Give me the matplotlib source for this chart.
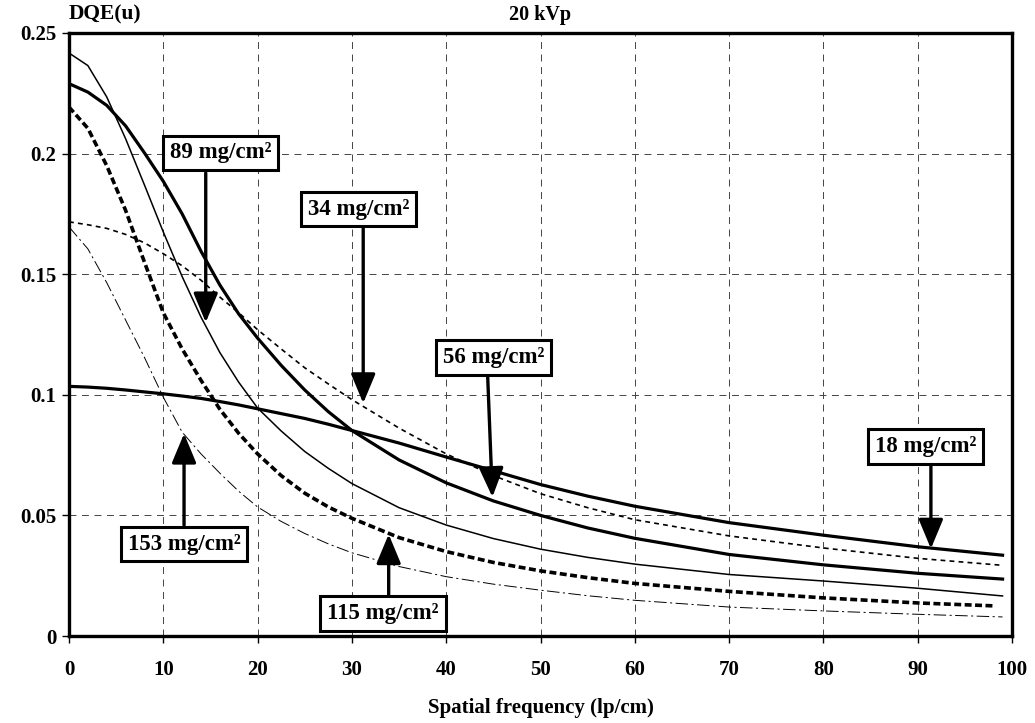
import matplotlib
matplotlib.use("Agg")
import matplotlib.pyplot as plt

# ── Data (DQE vs spatial frequency, 20 kVp) ──────────────────────────────────
freq = [0, 2, 4, 6, 8, 10, 12, 14, 16, 18, 20, 22.5, 25, 27.5, 30,
        35, 40, 45, 50, 55, 60, 70, 80, 90, 99]

dqe_18 = [0.1035, 0.1032, 0.1027, 0.1020, 0.1012, 0.1004, 0.0995, 0.0985,
          0.0972, 0.0958, 0.0942, 0.0922, 0.0902, 0.0878, 0.0852, 0.0800,
          0.0742, 0.0685, 0.0628, 0.0580, 0.0538, 0.0470, 0.0418, 0.0370,
          0.0335]
dqe_34 = [0.1717, 0.1705, 0.1690, 0.1665, 0.1630, 0.1585, 0.1535, 0.1475,
          0.1405, 0.1340, 0.1270, 0.1190, 0.1112, 0.1045, 0.0980, 0.0862,
          0.0755, 0.0665, 0.0590, 0.0532, 0.0482, 0.0415, 0.0365, 0.0322,
          0.0293]
dqe_56 = [0.2290, 0.2255, 0.2200, 0.2115, 0.2003, 0.1885, 0.1750, 0.1595,
          0.1455, 0.1335, 0.1235, 0.1122, 0.1020, 0.0930, 0.0852, 0.0730,
          0.0635, 0.0560, 0.0500, 0.0448, 0.0405, 0.0338, 0.0295, 0.0260,
          0.0236]
dqe_89 = [0.2417, 0.2365, 0.2235, 0.2062, 0.1870, 0.1675, 0.1490, 0.1322,
          0.1175, 0.1052, 0.0945, 0.0850, 0.0765, 0.0695, 0.0632, 0.0532,
          0.0460, 0.0404, 0.0360, 0.0326, 0.0298, 0.0255, 0.0228, 0.0198,
          0.0166]
dqe_115 = [0.2193, 0.2105, 0.1950, 0.1765, 0.1550, 0.1340, 0.1190, 0.1060,
           0.0940, 0.0840, 0.0755, 0.0665, 0.0592, 0.0535, 0.0488, 0.0408,
           0.0350, 0.0305, 0.0270, 0.0242, 0.0218, 0.0185, 0.0158, 0.0137,
           0.0125]
dqe_153 = [0.1696, 0.1605, 0.1465, 0.1310, 0.1155, 0.0990, 0.0845, 0.0755,
           0.0675, 0.0600, 0.0535, 0.0475, 0.0425, 0.0382, 0.0345, 0.0288,
           0.0246, 0.0215, 0.0190, 0.0167, 0.0148, 0.0120, 0.0104, 0.0090,
           0.0079]

x_ticks = [0, 10, 20, 30, 40, 50, 60, 70, 80, 90, 100]
y_ticks = [0, 0.05, 0.1, 0.15, 0.2, 0.25]
y_tick_labels = ["0", "0.05", "0.1", "0.15", "0.2", "0.25"]

# label text, box centre (x, y), arrow start (x, y), arrow tip (x, y)
labels = ["89 mg/cm²", "34 mg/cm²", "56 mg/cm²", "18 mg/cm²",
          "153 mg/cm²", "115 mg/cm²"]
box_xy = [(16.1, 0.2003), (30.7, 0.1770), (45.0, 0.1155), (90.8, 0.0787),
          (12.2, 0.0381), (33.3, 0.0094)]
arrow_from = [(14.5, 0.192), (31.2, 0.169), (44.4, 0.1075), (91.4, 0.071),
              (12.2, 0.046), (33.9, 0.017)]
arrow_to = [(14.5, 0.130), (31.2, 0.0965), (44.9, 0.0576), (91.4, 0.0362),
            (12.2, 0.0839), (33.9, 0.0422)]

SERIF = "Liberation Serif"
plt.rcParams.update({
    "font.family": SERIF,
    "font.weight": "bold",
    "lines.scale_dashes": False,
})

fig = plt.figure(figsize=(10.35, 7.23), dpi=100)
ax = fig.add_axes([69 / 1035, 1 - 636 / 723, 943 / 1035, 603 / 723])

ax.plot(freq, dqe_18, color="black", lw=2.3)
ax.plot(freq, dqe_34, color="black", lw=1.2, dashes=(3.5, 3))
ax.plot(freq, dqe_56, color="black", lw=2.3)
ax.plot(freq, dqe_89, color="black", lw=1.1)
ax.plot(freq[:-1] + [98], dqe_115, color="black", lw=2.6, dashes=(5, 2.5))
ax.plot(freq, dqe_153, color="black", lw=0.7, dashes=(9, 2.5, 1.5, 2.5))

for text, bxy, a0, a1 in zip(labels, box_xy, arrow_from, arrow_to):
    ax.annotate("", xy=a1, xytext=a0,
                arrowprops=dict(arrowstyle="-|>,head_length=1.8,head_width=0.75",
                                color="black", lw=2.4, shrinkA=0, shrinkB=0))
    ax.text(bxy[0], bxy[1], text, ha="center", va="center", fontsize=16.5,
            fontweight="bold",
            bbox=dict(boxstyle="square,pad=0.3", fc="white", ec="black", lw=2.2))

ax.set_xlim(0, 100)
ax.set_ylim(0, 0.25)
ax.set_xticks(x_ticks)
ax.set_yticks(y_ticks)
ax.set_yticklabels(y_tick_labels)
ax.tick_params(direction="out", length=5, width=1, labelsize=15)
ax.tick_params(axis="x", pad=12)
ax.tick_params(axis="y", pad=4)
ax.grid(True, color="#444444", lw=0.7, dashes=(5, 4))
ax.set_axisbelow(True)
for sp in ax.spines.values():
    sp.set_linewidth(2.4)

ax.set_xlabel("Spatial frequency (lp/cm)", fontsize=15, fontweight="bold", labelpad=13)
ax.text(0, 1.014, "DQE(u)", transform=ax.transAxes, ha="left", va="bottom",
        fontsize=15.5, fontweight="bold")
ax.text(0.5, 1.014, "20 kVp", transform=ax.transAxes, ha="center", va="bottom",
        fontsize=14.5, fontweight="bold")

fig.savefig("out.png", dpi=100)
